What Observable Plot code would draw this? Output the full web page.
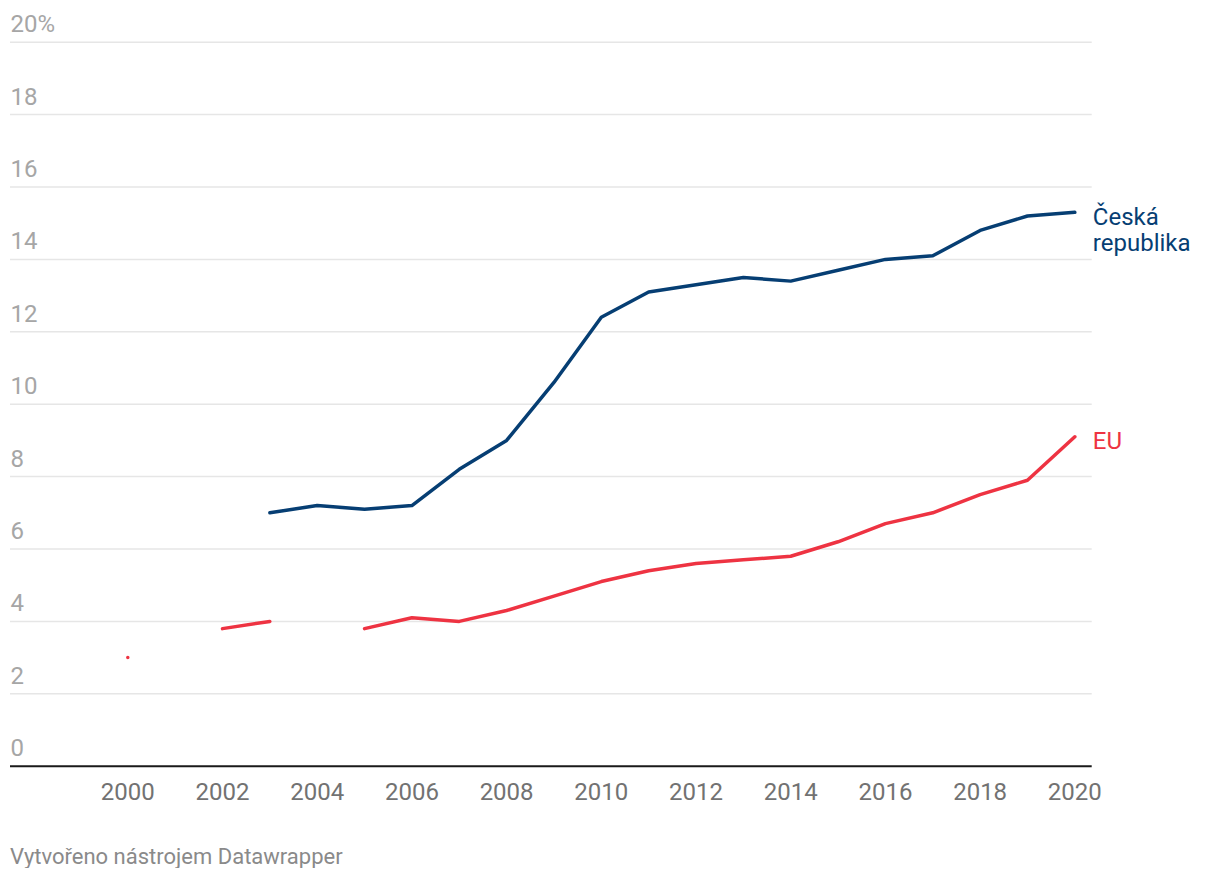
<!DOCTYPE html>
<html>
<head>
<meta charset="utf-8">
<script src="https://cdn.jsdelivr.net/npm/d3@7"></script>
<script src="https://cdn.jsdelivr.net/npm/@observablehq/plot@0.6"></script>
<style>
  html, body { margin: 0; padding: 0; background: #fff; }
  body { font-family: Roboto, "Noto Sans", sans-serif; width: 1220px; }
  #chart svg { display: block; }
  #caption { font-family: Roboto, sans-serif; font-size: 22px; line-height: 22px; color: #8a8a8a; margin: 26px 0 0 10px; }
</style>
</head>
<body>
<div id="chart"></div>
<div id="caption">Vytvořeno nástrojem Datawrapper</div>
<script>
// ---- data ----
const years = [2000, 2001, 2002, 2003, 2004, 2005, 2006, 2007, 2008, 2009, 2010, 2011, 2012, 2013, 2014, 2015, 2016, 2017, 2018, 2019, 2020];
const czValues = [null, null, null, 7.0, 7.2, 7.1, 7.2, 8.2, 9.0, 10.6, 12.4, 13.1, 13.3, 13.5, 13.4, 13.7, 14.0, 14.1, 14.8, 15.2, 15.3];
const euValues = [3.0, null, 3.8, 4.0, null, 3.8, 4.1, 4.0, 4.3, 4.7, 5.1, 5.4, 5.6, 5.7, 5.8, 6.2, 6.7, 7.0, 7.5, 7.9, 9.1];
const seriesNames = ["Česká\nrepublika", "EU"];
const seriesColors = ["#063e73", "#ee3342"];
const yTicks = [0, 2, 4, 6, 8, 10, 12, 14, 16, 18, 20];
const yTickLabels = ["0", "2", "4", "6", "8", "10", "12", "14", "16", "18", "20%"];
const xTicks = [2000, 2002, 2004, 2006, 2008, 2010, 2012, 2014, 2016, 2018, 2020];

// ---- table ----
const rows = [];
[czValues, euValues].forEach((vals, s) => {
  years.forEach((yr, i) => rows.push({ series: seriesNames[s], year: yr, value: vals[i] }));
});
const lastPoints = seriesNames.map((name, s) => {
  const vals = s === 0 ? czValues : euValues;
  return { series: name, year: years[years.length - 1], value: vals[vals.length - 1] };
});

const W = 1220, H = 820;
const xMin = 1997.523, xMax = 2020.367;

const chart = Plot.plot({
  width: W,
  height: H,
  marginLeft: 10,
  marginRight: 128.3,
  marginTop: 41.7,
  marginBottom: 54.3,
  x: { domain: [xMin, xMax], axis: null },
  y: { domain: [0, 20], axis: null },
  color: { domain: seriesNames, range: seriesColors },
  style: { fontFamily: "Roboto, sans-serif", background: "white", overflow: "visible" },
  marks: [
    Plot.ruleY(yTicks.filter(d => d > 0), { stroke: "#e6e6e6", strokeWidth: 1.5 }),
    Plot.text(yTicks, {
      y: d => d,
      text: (d, i) => yTickLabels[i],
      frameAnchor: "left",
      textAnchor: "start",
      lineAnchor: "bottom",
      dy: -10,
      fill: "#a6a6a6",
      fontSize: 24
    }),
    Plot.ruleY([0], { stroke: "#1a1a1a", strokeWidth: 2 }),
    Plot.text(xTicks, {
      x: d => d,
      y: () => 0,
      text: d => String(d),
      textAnchor: "middle",
      lineAnchor: "bottom",
      dy: 34,
      fill: "#727272",
      fontSize: 24
    }),
    Plot.line(rows, {
      x: "year",
      y: "value",
      z: "series",
      stroke: "series",
      strokeWidth: 3.5,
      strokeLinecap: "round",
      strokeLinejoin: "round"
    }),
    Plot.text(lastPoints, {
      x: "year",
      y: "value",
      text: "series",
      fill: "series",
      textAnchor: "start",
      lineAnchor: "top",
      dx: 18,
      dy: -6.5,
      fontSize: 24,
      lineHeight: 1.11
    })
  ]
});
document.getElementById("chart").appendChild(chart);
</script>
</body>
</html>
